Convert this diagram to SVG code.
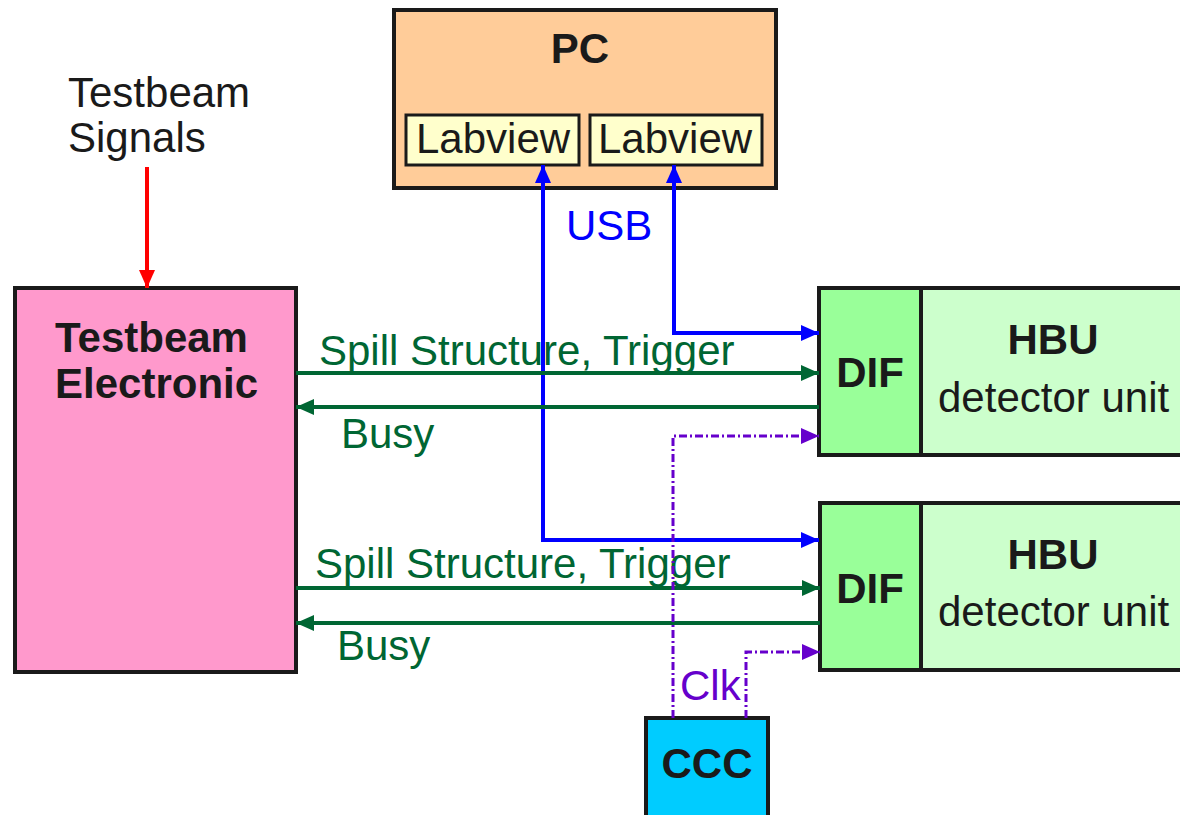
<svg xmlns="http://www.w3.org/2000/svg" width="1180" height="815" viewBox="0 0 1180 815">
  <style>
    .box { stroke: #1a1a1a; stroke-width: 4; }
    .t { font-family: "Liberation Sans", Arial, sans-serif; font-size: 42px; fill: #1a1a1a; }
    .b { font-family: "Liberation Sans", Arial, sans-serif; font-size: 42px; font-weight: bold; fill: #1a1a1a; }
    .lbl { font-family: "Liberation Sans", Arial, sans-serif; font-size: 42px; }
    .mid { text-anchor: middle; }
    .blue { stroke: #0000ff; stroke-width: 4; fill: none; }
    .green { stroke: #006633; stroke-width: 4; fill: none; }
    .red { stroke: #ff0000; stroke-width: 4; fill: none; }
    .clk { stroke: #6600cc; stroke-width: 3; fill: none; stroke-dasharray: 8 3 2 3; }
  </style>
  <defs>
    <marker id="ahBlue" markerUnits="userSpaceOnUse" markerWidth="20" markerHeight="16" refX="18" refY="8" orient="auto-start-reverse">
      <path d="M0,0 L18,8 L0,16 z" fill="#0000ff"/>
    </marker>
    <marker id="ahGreen" markerUnits="userSpaceOnUse" markerWidth="20" markerHeight="16" refX="18" refY="8" orient="auto">
      <path d="M0,0 L18,8 L0,16 z" fill="#006633"/>
    </marker>
    <marker id="ahRed" markerUnits="userSpaceOnUse" markerWidth="20" markerHeight="16" refX="18" refY="8" orient="auto">
      <path d="M0,0 L18,8 L0,16 z" fill="#ff0000"/>
    </marker>
    <marker id="ahPurple" markerUnits="userSpaceOnUse" markerWidth="20" markerHeight="16" refX="18" refY="8" orient="auto">
      <path d="M0,0 L18,8 L0,16 z" fill="#6600cc"/>
    </marker>
  </defs>

  <rect width="1180" height="815" fill="#ffffff"/>

  <!-- external signal label -->
  <g id="testbeam-signals">
    <text class="t" x="68" y="107">Testbeam</text>
    <text class="t" x="68" y="152">Signals</text>
  </g>

  <g id="pc">
    <rect class="box" x="394" y="10" width="382" height="178" fill="#ffcc99"/>
    <text class="b mid" x="580" y="63">PC</text>
  </g>
  <g id="labview1">
    <rect x="406" y="115" width="173" height="50" fill="#ffffcc" stroke="#1a1a1a" stroke-width="3"/>
    <text class="t" x="416" y="153">Labview</text>
  </g>
  <g id="labview2">
    <rect x="590" y="115" width="172" height="50" fill="#ffffcc" stroke="#1a1a1a" stroke-width="3"/>
    <text class="t" x="598" y="153">Labview</text>
  </g>

  <g id="testbeam-electronic">
    <rect class="box" x="15" y="288" width="281" height="384" fill="#ff99cc"/>
    <text class="b" x="55" y="352">Testbeam</text>
    <text class="b" x="55" y="398">Electronic</text>
  </g>

  <g id="hbu1">
    <rect class="box" x="921" y="288" width="265" height="167" fill="#ccffcc"/>
    <text class="b mid" x="1053" y="354">HBU</text>
    <text class="t" x="938" y="412">detector unit</text>
  </g>
  <g id="dif1">
    <rect class="box" x="819" y="288" width="102" height="167" fill="#99ff99"/>
    <text class="b mid" x="870" y="387">DIF</text>
  </g>

  <g id="hbu2">
    <rect class="box" x="921" y="503" width="265" height="167" fill="#ccffcc"/>
    <text class="b mid" x="1053" y="569">HBU</text>
    <text class="t" x="938" y="626">detector unit</text>
  </g>
  <g id="dif2">
    <rect class="box" x="820" y="503" width="101" height="167" fill="#99ff99"/>
    <text class="b mid" x="870" y="603">DIF</text>
  </g>

  <g id="ccc">
    <rect class="box" x="646" y="718" width="122" height="110" fill="#00ccff"/>
    <text class="b mid" x="707" y="778">CCC</text>
  </g>

  <g id="connectors">
    <!-- trigger input -->
    <line class="red" x1="147" y1="167" x2="147" y2="288" marker-end="url(#ahRed)"/>

    <!-- USB links -->
    <polyline class="blue" points="543,165 543,540 819,540" marker-start="url(#ahBlue)" marker-end="url(#ahBlue)"/>
    <polyline class="blue" points="674,165 674,333 819,333" marker-start="url(#ahBlue)" marker-end="url(#ahBlue)"/>
    <text class="lbl" x="566" y="240" fill="#0000ff">USB</text>

    <!-- spill / trigger and busy, upper DIF -->
    <line class="green" x1="296" y1="373" x2="819" y2="373" marker-end="url(#ahGreen)"/>
    <line class="green" x1="819" y1="407" x2="296" y2="407" marker-end="url(#ahGreen)"/>
    <text class="lbl" x="319" y="365" fill="#006633">Spill Structure, Trigger</text>
    <text class="lbl" x="341" y="448" fill="#006633">Busy</text>

    <!-- spill / trigger and busy, lower DIF -->
    <line class="green" x1="296" y1="588" x2="820" y2="588" marker-end="url(#ahGreen)"/>
    <line class="green" x1="820" y1="623" x2="296" y2="623" marker-end="url(#ahGreen)"/>
    <text class="lbl" x="315" y="578" fill="#006633">Spill Structure, Trigger</text>
    <text class="lbl" x="337" y="660" fill="#006633">Busy</text>

    <!-- clock distribution -->
    <polyline class="clk" points="673,718 673,436 819,436" marker-end="url(#ahPurple)"/>
    <polyline class="clk" points="746,718 746,652 820,652" marker-end="url(#ahPurple)"/>
    <text class="lbl" x="680" y="700" fill="#6600cc">Clk</text>
  </g>
</svg>
